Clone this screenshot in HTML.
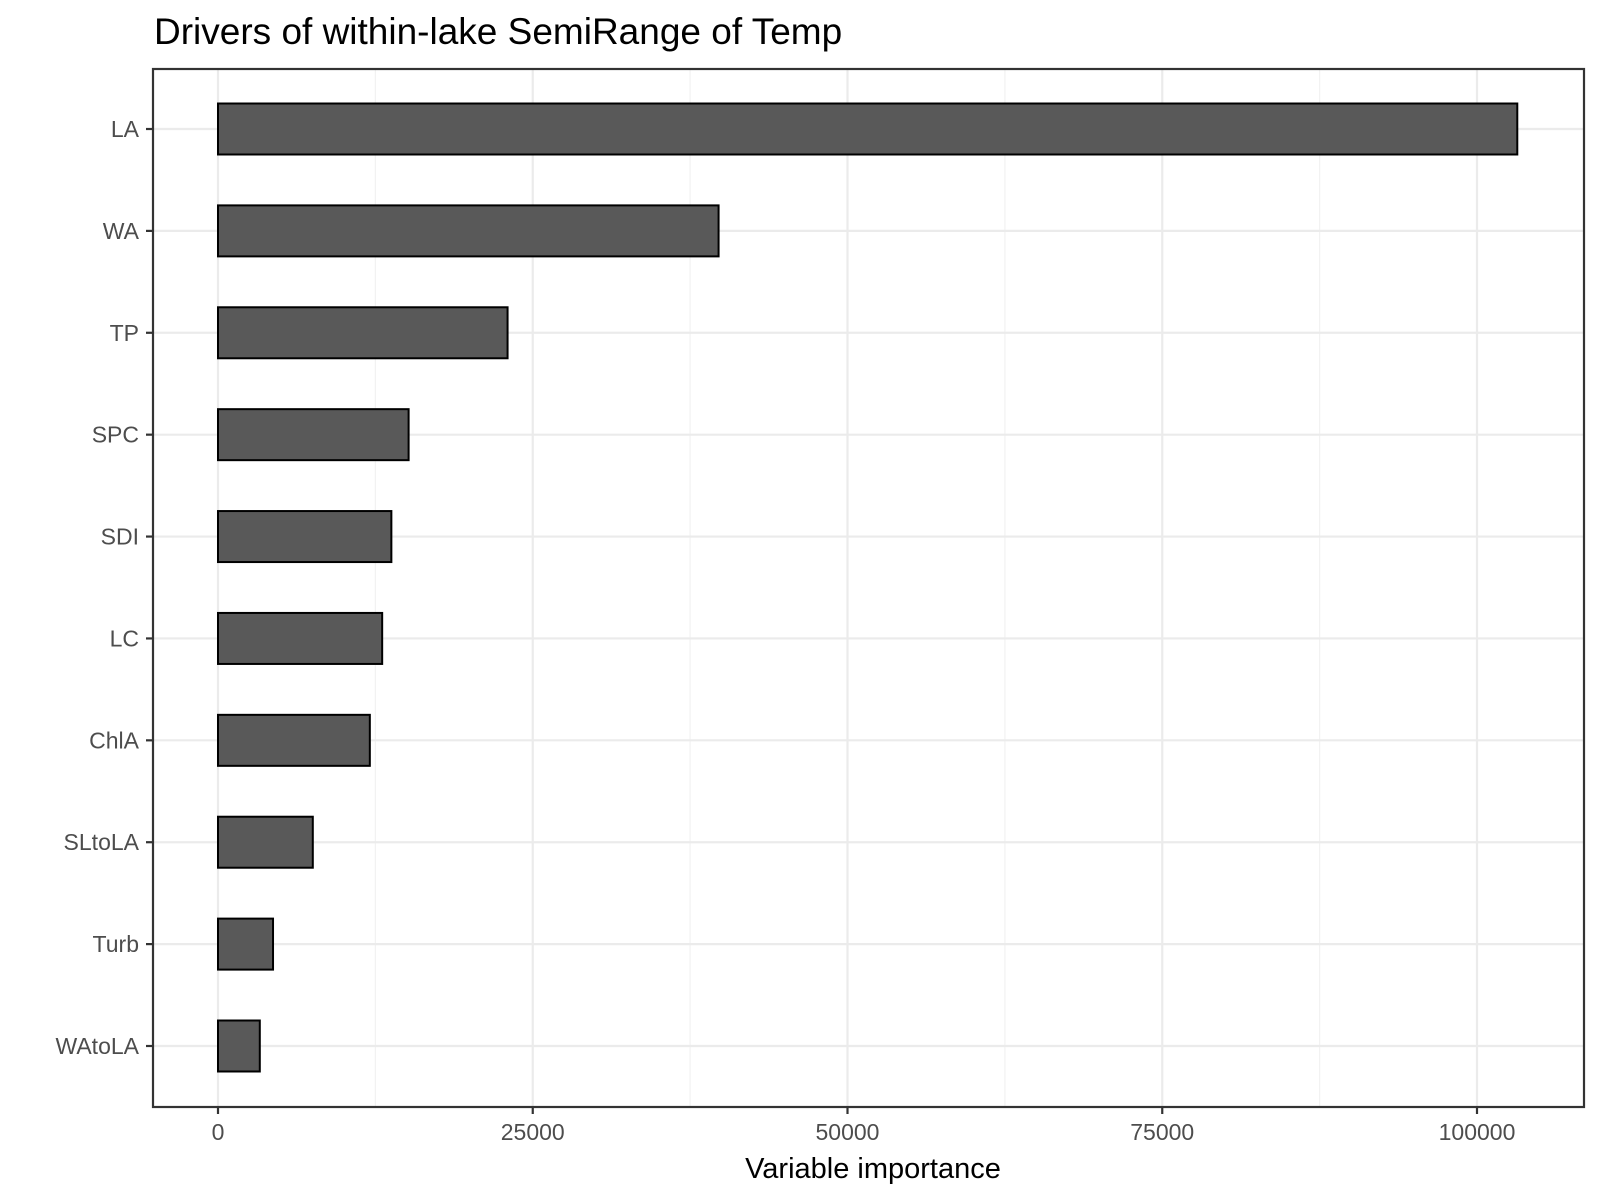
<!DOCTYPE html>
<html><head><meta charset="utf-8"><style>
body{margin:0;background:#fff}
svg{display:block;font-family:"Liberation Sans",Arial,sans-serif}
</style></head><body>
<svg id="chart" width="1600" height="1200">
<text x="154" y="44" font-size="37" fill="#000">Drivers of within-lake SemiRange of Temp</text>
<g id="grid"></g><g id="bars"></g><g id="axes"></g>
<text x="873" y="1178" font-size="29" text-anchor="middle" fill="#000">Variable importance</text>
</svg>
<script>
const categories = ["LA","WA","TP","SPC","SDI","LC","ChlA","SLtoLA","Turb","WAtoLA"];
const values = [103200,39760,23000,15140,13770,13040,12060,7530,4370,3320];
const xTicks = [0,25000,50000,75000,100000];
const xTickLabels = ["0","25000","50000","75000","100000"];
const xMinor = [12500,37500,62500,87500];

const L=153,T=69,R=1584,B=1107;
const x=v=>218+v*(1477-218)/100000;
const y=i=>129+i*(1046-129)/(categories.length-1);
const bh=51;
const NS="http://www.w3.org/2000/svg";
function mk(tag,attrs,parent){const e=document.createElementNS(NS,tag);for(const k in attrs)e.setAttribute(k,attrs[k]);parent.appendChild(e);return e;}
const grid=document.getElementById('grid'),bars=document.getElementById('bars'),axes=document.getElementById('axes');
mk('rect',{x:L,y:T,width:R-L,height:B-T,fill:'#fff'},grid);
xMinor.forEach(v=>{const l=mk('line',{x1:x(v),x2:x(v),y1:T,y2:B,stroke:'#f2f2f2','stroke-width':1.2},grid);

});
xTicks.forEach(v=>{const l=mk('line',{x1:x(v),x2:x(v),y1:T,y2:B,stroke:'#ebebeb','stroke-width':2.2},grid);

});
categories.forEach((c,i)=>{const l=mk('line',{x1:L,x2:R,y1:y(i),y2:y(i),stroke:'#ebebeb','stroke-width':2.2},grid);

});
categories.forEach((c,i)=>{
const r=mk('rect',{x:x(0),y:y(i)-bh/2,width:x(values[i])-x(0),height:bh,fill:'#595959',stroke:'#000','stroke-width':2},bars);


const t=mk('line',{x1:L-7,x2:L,y1:y(i),y2:y(i),stroke:'#333','stroke-width':2.2},axes);


const tx=mk('text',{x:L-14,y:y(i)+8,'font-size':23,'text-anchor':'end',fill:'#4d4d4d'},axes);
tx.textContent=c;


});
xTicks.forEach((v,i)=>{
const t=mk('line',{x1:x(v),x2:x(v),y1:B,y2:B+7,stroke:'#333','stroke-width':2.2},axes);


const tx=mk('text',{x:x(v),y:1140,'font-size':23,'text-anchor':'middle',fill:'#4d4d4d'},axes);
tx.textContent=xTickLabels[i];


});
const border=mk('rect',{x:L,y:T,width:R-L,height:B-T,fill:'none',stroke:'#333','stroke-width':2.2},axes);


</script>
</body></html>
